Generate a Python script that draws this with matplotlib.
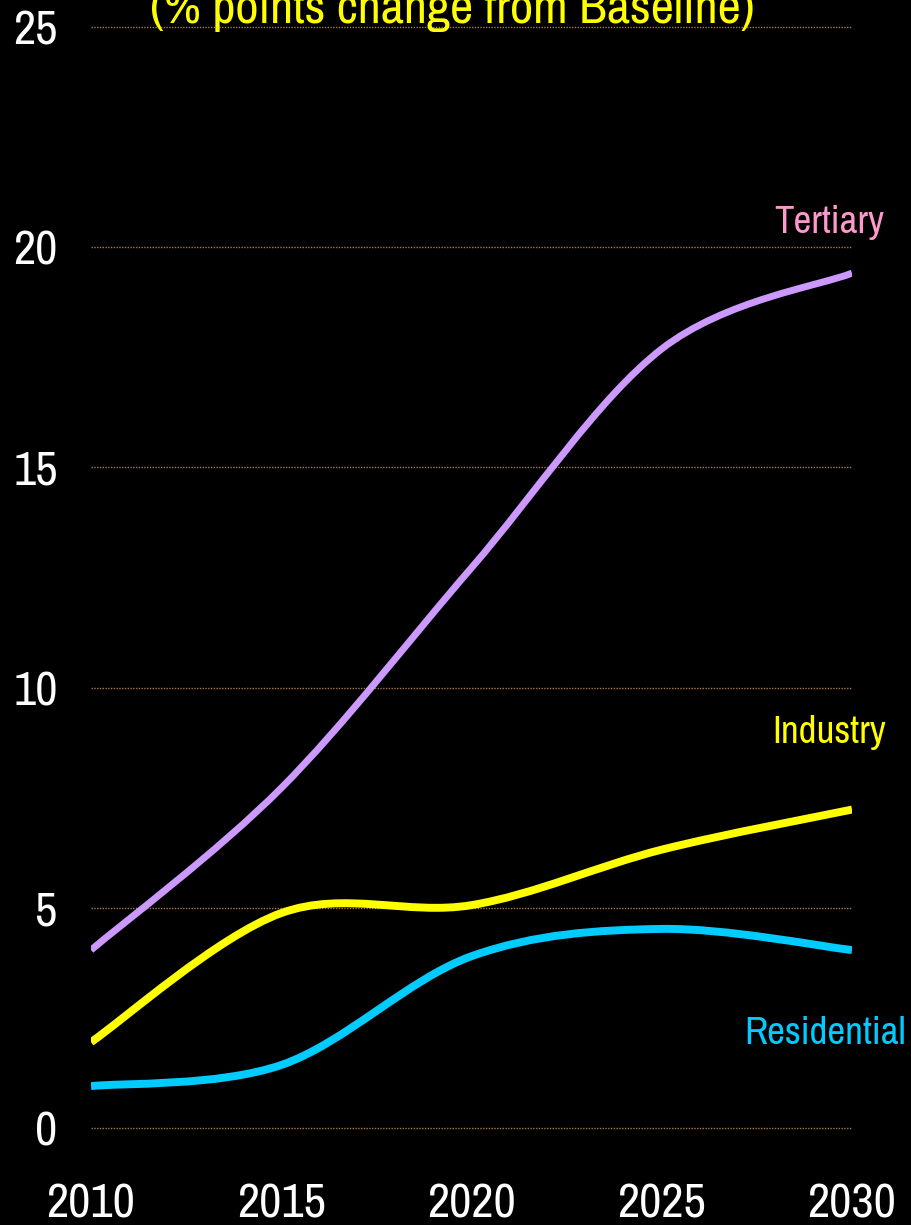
import numpy as np
import matplotlib
matplotlib.use("Agg")
import matplotlib.pyplot as plt
from matplotlib.path import Path
from matplotlib.patches import PathPatch

years = [2010, 2015, 2020, 2025, 2030]
tertiary = [4.04, 7.72, 12.72, 17.69, 19.41]
industry = [1.95, 4.88, 5.06, 6.32, 7.23]
residential = [0.95, 1.43, 3.90, 4.52, 4.04]

y_ticks = [0, 5, 10, 15, 20, 25]
title = "(% points change from Baseline)"

# arial narrow look-alike first, plain sans as the fallback
plt.rcParams['font.family'] = ['Liberation Sans Narrow', 'Arial Narrow',
                               'Archivo Narrow', 'Liberation Sans', 'DejaVu Sans']


def smooth_path(xs, ys):
    # excel-like smoothed line: bezier segments through the data points
    pts = np.column_stack([xs, ys]).astype(float)
    n = len(pts)
    verts = [pts[0]]
    codes = [Path.MOVETO]
    for i in range(n - 1):
        p0 = pts[max(i - 1, 0)]
        p1 = pts[i]
        p2 = pts[i + 1]
        p3 = pts[min(i + 2, n - 1)]
        verts += [p1 + (p2 - p0) / 6, p2 - (p3 - p1) / 6, p2]
        codes += [Path.CURVE4] * 3
    return Path(verts, codes)


fig = plt.figure(figsize=(9.12, 12.25), dpi=100, facecolor="black")
ax = fig.add_axes([0.0998, 0.0792, 0.8344, 0.8988])
ax.set_facecolor("black")

series = [
    (tertiary, "#CC99FF", 5.0),
    (industry, "#FFFF00", 5.7),
    (residential, "#00CCFF", 5.7),
]
for values, color, lw in series:
    patch = PathPatch(smooth_path(years, values), fill=False, edgecolor=color,
                      lw=lw, capstyle="butt", joinstyle="round", zorder=3)
    ax.add_patch(patch)

ax.set_xlim(2010, 2030)
ax.set_ylim(0, 25)
ax.set_xticks(years)
ax.set_yticks(y_ticks)
ax.tick_params(axis="both", length=0, colors="white", labelsize=35)
ax.tick_params(axis="x", pad=39)
ax.tick_params(axis="y", pad=24)
for s in ax.spines.values():
    s.set_visible(False)
ax.yaxis.grid(True, color="#A87848", linestyle=(0, (1, 1)), lw=1.0)
ax.set_axisbelow(True)
for gl in ax.get_ygridlines():
    gl.set_clip_on(False)

ax.text(2029.4, 20.33, "Tertiary", color="#FF99CC", fontsize=28,
        ha="center", va="baseline", clip_on=False)
ax.text(2029.4, 8.74, "Industry", color="#FFFF00", fontsize=28,
        ha="center", va="baseline", clip_on=False)
ax.text(2029.3, 1.91, "Residential", color="#00CCFF", fontsize=28,
        ha="center", va="baseline", clip_on=False)

fig.text(0.496, 1 - 23 / 1225, title, color="#FFFF00", fontsize=36.5,
         ha="center", va="baseline")

fig.savefig("out.png", dpi=100, facecolor="black")
